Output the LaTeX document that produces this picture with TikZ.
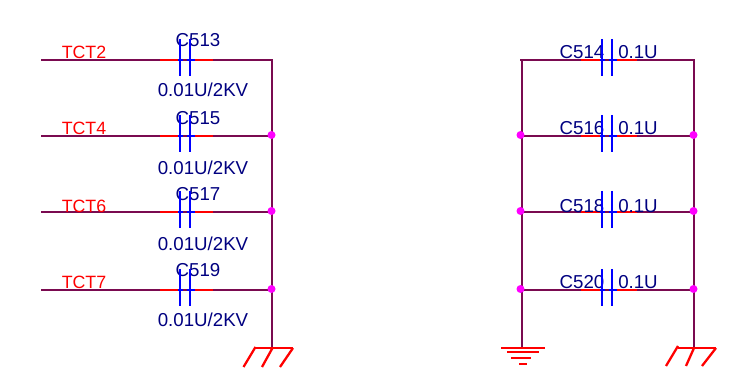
\documentclass[tikz,border=0pt]{standalone}
\usepackage{fontspec}
\setmainfont{Liberation Sans}
\definecolor{wirec}{HTML}{7A0A50}
\definecolor{textc}{HTML}{000080}
\definecolor{dotc}{HTML}{FF00FF}
\tikzset{
  wire/.style={draw=wirec,line width=2.2pt},
  lead/.style={draw=red,line width=2.2pt},
  stub/.style={draw=blue,line width=2.2pt},
  plate/.style={draw=blue,line width=2.4pt},
  gnd/.style={draw=red,line width=2.3pt},
  junction/.style={circle,fill=dotc,inner sep=0pt,minimum size=8pt},
  netlabel/.style={anchor=base,inner sep=0pt,text=red,font=\fontsize{17.8}{20}\selectfont},
  partlabel/.style={anchor=base,inner sep=0pt,text=textc,font=\fontsize{18.7}{20}\selectfont}
}
\begin{document}
\begin{tikzpicture}[x=1pt,y=-1pt]
\useasboundingbox (0,0) rectangle (732,382);
% rails
\coordinate (LT) at (272,60);
\coordinate (LG) at (272,348);
\coordinate (MT) at (522,60);
\coordinate (MG) at (522,348);
\coordinate (RT) at (694,60);
\coordinate (RG) at (694,348);
\draw[wire] (LT) -- (LG);
\draw[wire] (MT) -- (MG);
\draw[wire] (RT) -- (RG);
% rows
\foreach \id/\yy/\netname/\partl/\partr/\ybase/\ycl/\yval in {
  a/60/TCT2/C513/C514/59/47/97,
  b/136/TCT4/C515/C516/135/125/175,
  c/212/TCT6/C517/C518/213/201/251,
  d/290/TCT7/C519/C520/289/277/327}{
  \coordinate (W\id) at (41,\yy);
  \coordinate (L\id) at (273,\yy);
  \coordinate (M\id) at (520,\yy);
  \coordinate (R\id) at (695,\yy);
  \draw[wire] (W\id) -- (L\id);
  \draw[wire] (M\id) -- (R\id);
  \draw[lead] (160,\yy) -- (178,\yy);
  \draw[lead] (195,\yy) -- (213,\yy);
  \draw[lead] (581,\yy) -- (600,\yy);
  \draw[lead] (617,\yy) -- (637,\yy);
  \node[netlabel] (net\id) at (84,\ybase) {\netname};
  \node[partlabel] (cl\id) at (198,\ycl) {\partl};
  \node[partlabel] (vl\id) at (203,\yval) {0.01U/2KV};
  \node[partlabel] (cr\id) at (582,\ybase) {\partr};
  \node[partlabel] (vr\id) at (638,\ybase) {0.1U};
  \draw[stub] (178,\yy) -- (183,\yy);
  \draw[stub] (187,\yy) -- (195,\yy);
  \draw[stub] (600,\yy) -- (605,\yy);
  \draw[stub] (609,\yy) -- (617,\yy);
  \draw[plate] (180,\yy-21) -- (180,\yy+16);
  \draw[plate] (190,\yy-21) -- (190,\yy+16);
  \draw[plate] (602,\yy-21) -- (602,\yy+16);
  \draw[plate] (612,\yy-21) -- (612,\yy+16);
}
% junctions
\foreach \yy in {135,211,289}{
  \node[junction] (jl\yy) at (271.5,\yy) {};
  \node[junction] (jm\yy) at (520.5,\yy) {};
  \node[junction] (jr\yy) at (693.5,\yy) {};
}
% chassis grounds
\draw[gnd] (255,348) -- (293,348);
\draw[gnd] (255.5,347) -- (243.5,367);
\draw[gnd] (272.5,348) -- (262,367);
\draw[gnd] (293,348) -- (280,367);
\draw[gnd] (678,348) -- (716,348);
\draw[gnd] (678,346) -- (666,366);
\draw[gnd] (694,348) -- (686,366);
\draw[gnd] (716,348) -- (702,366);
% signal ground
\draw[gnd] (501,348) -- (545,348);
\draw[gnd] (507,352) -- (538.5,352);
\draw[gnd] (511,358) -- (531,358);
\draw[gnd] (519,364) -- (527,364);
\end{tikzpicture}
\end{document}
